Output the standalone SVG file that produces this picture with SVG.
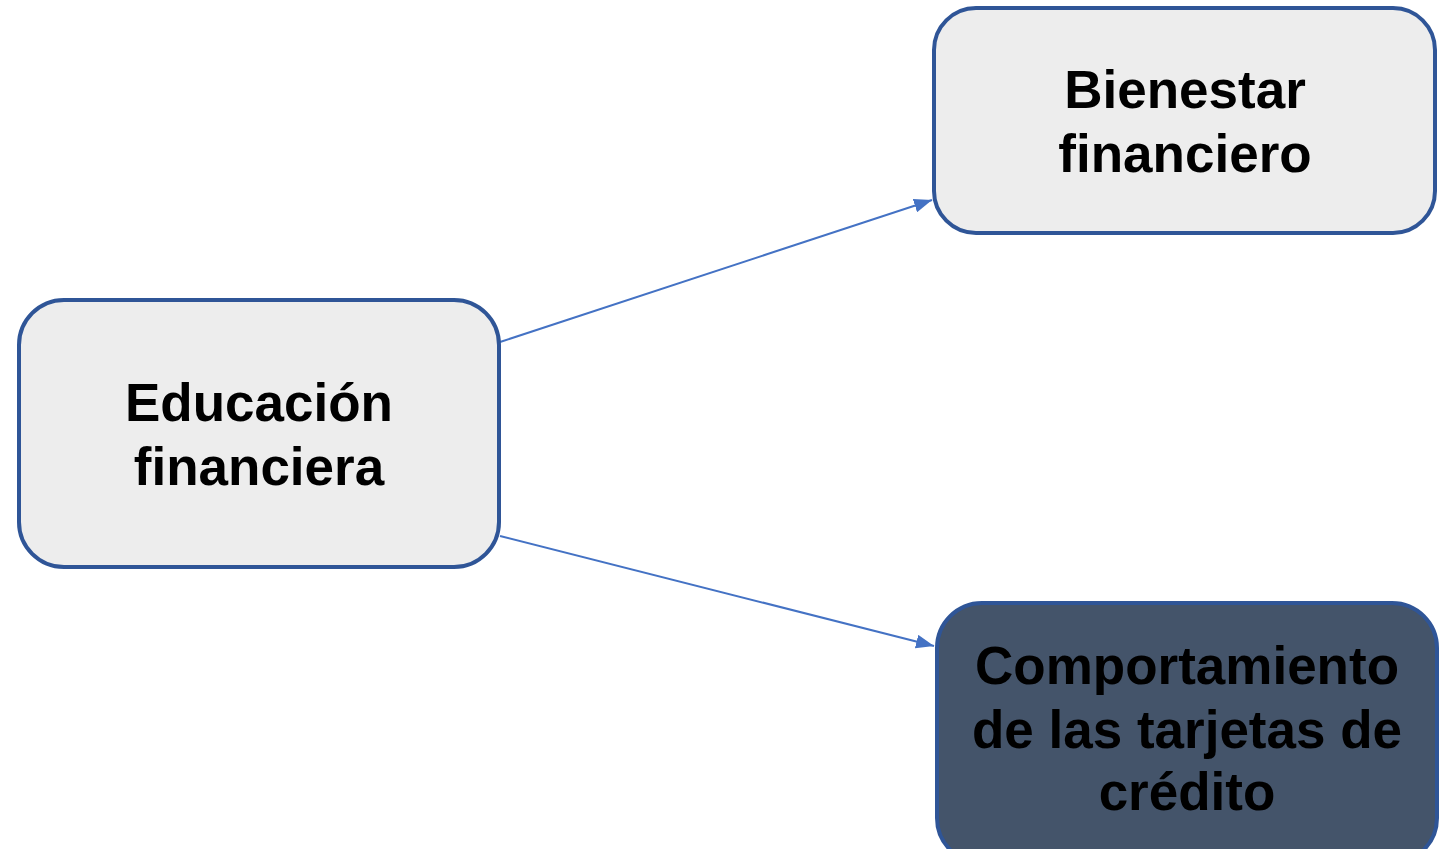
<svg xmlns="http://www.w3.org/2000/svg" width="1453" height="849" viewBox="0 0 1453 849">
<style>
.box{fill:#EDEDED;stroke:#2F5597;stroke-width:4}
.dark{fill:#44546A;stroke:#2F5597;stroke-width:4}
.t{font-family:"Liberation Sans",Arial,sans-serif;font-weight:bold;font-size:53px;fill:#000;text-anchor:middle}
.c{stroke:#4472C4;stroke-width:2;fill:none;marker-end:url(#ah)}
</style>
<defs>
<marker id="ah" viewBox="0 0 18 14" refX="18" refY="7" markerWidth="18" markerHeight="14" markerUnits="userSpaceOnUse" orient="auto">
<path d="M0,0 L18,7 L0,14 z" fill="#4472C4"/>
</marker>
</defs>
<rect width="1453" height="849" fill="#fff"/>
<g id="connectors">
<line class="c" x1="500" y1="342" x2="932" y2="200"/>
<line class="c" x1="500" y1="536" x2="934" y2="646"/>
</g>
<g id="educacion">
<rect class="box" x="19" y="300" width="480" height="267" rx="45"/>
<text class="t" x="259" y="421">Educación</text>
<text class="t" x="259" y="485">financiera</text>
</g>
<g id="bienestar">
<rect class="box" x="934" y="8" width="501" height="225" rx="42"/>
<text class="t" x="1185" y="108">Bienestar</text>
<text class="t" x="1185" y="172">financiero</text>
</g>
<g id="comportamiento">
<rect class="dark" x="937" y="603" width="500" height="260" rx="45"/>
<text class="t" x="1187" y="684">Comportamiento</text>
<text class="t" x="1187" y="748">de las tarjetas de</text>
<text class="t" x="1187" y="810">crédito</text>
</g>
</svg>
